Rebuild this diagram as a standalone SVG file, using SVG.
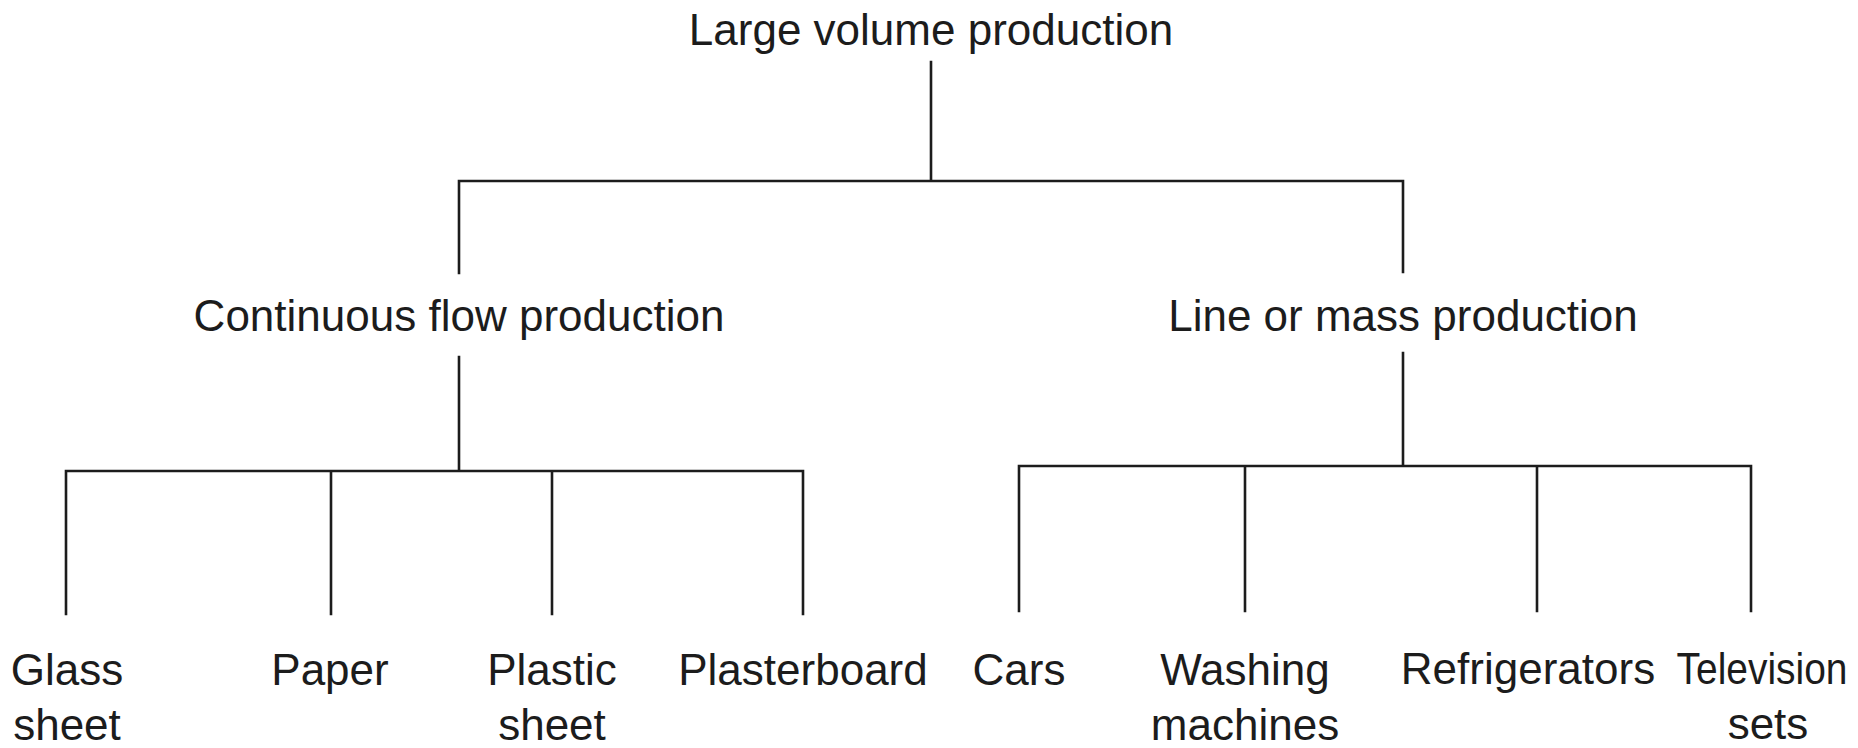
<svg xmlns="http://www.w3.org/2000/svg" width="1858" height="748" viewBox="0 0 1858 748">
<style>
.bg{fill:#ffffff}
.t{font-family:"Liberation Sans",Arial,sans-serif;font-size:44px;fill:#1c1c1c;text-anchor:middle}
.c{stroke:#1c1c1c;stroke-width:2.6;fill:none;stroke-linecap:square}
</style>
<rect class="bg" x="0" y="0" width="1858" height="748"/>
<g id="connectors">
<path class="c" d="M931,62 V181 M459,181 H1403 M459,181 V273 M1403,181 V272"/>
<path class="c" d="M459,357 V471 M66,471 H803 M66,471 V614 M331,471 V614 M552,471 V614 M803,471 V614"/>
<path class="c" d="M1403,353 V466 M1019,466 H1751 M1019,466 V611 M1245,466 V611 M1537,466 V611 M1751,466 V611"/>
</g>
<g id="n-root"><text class="t" x="931" y="45">Large volume production</text></g>
<g id="n-continuous"><text class="t" x="459" y="331">Continuous flow production</text></g>
<g id="n-line"><text class="t" x="1403" y="331">Line or mass production</text></g>
<g id="n-glass"><text class="t" x="67" y="685">Glass</text><text class="t" x="67" y="740">sheet</text></g>
<g id="n-paper"><text class="t" x="330" y="685">Paper</text></g>
<g id="n-plastic"><text class="t" x="552" y="685">Plastic</text><text class="t" x="552" y="740">sheet</text></g>
<g id="n-plasterboard"><text class="t" x="803" y="685">Plasterboard</text></g>
<g id="n-cars"><text class="t" x="1019" y="685">Cars</text></g>
<g id="n-washing"><text class="t" x="1245" y="685">Washing</text><text class="t" x="1245" y="740">machines</text></g>
<g id="n-refrigerators"><text class="t" x="1528" y="684">Refrigerators</text></g>
<g id="n-television"><text class="t" transform="translate(1762,684) scale(0.885,1)" x="0" y="0">Television</text><text class="t" x="1768" y="739">sets</text></g>
</svg>
